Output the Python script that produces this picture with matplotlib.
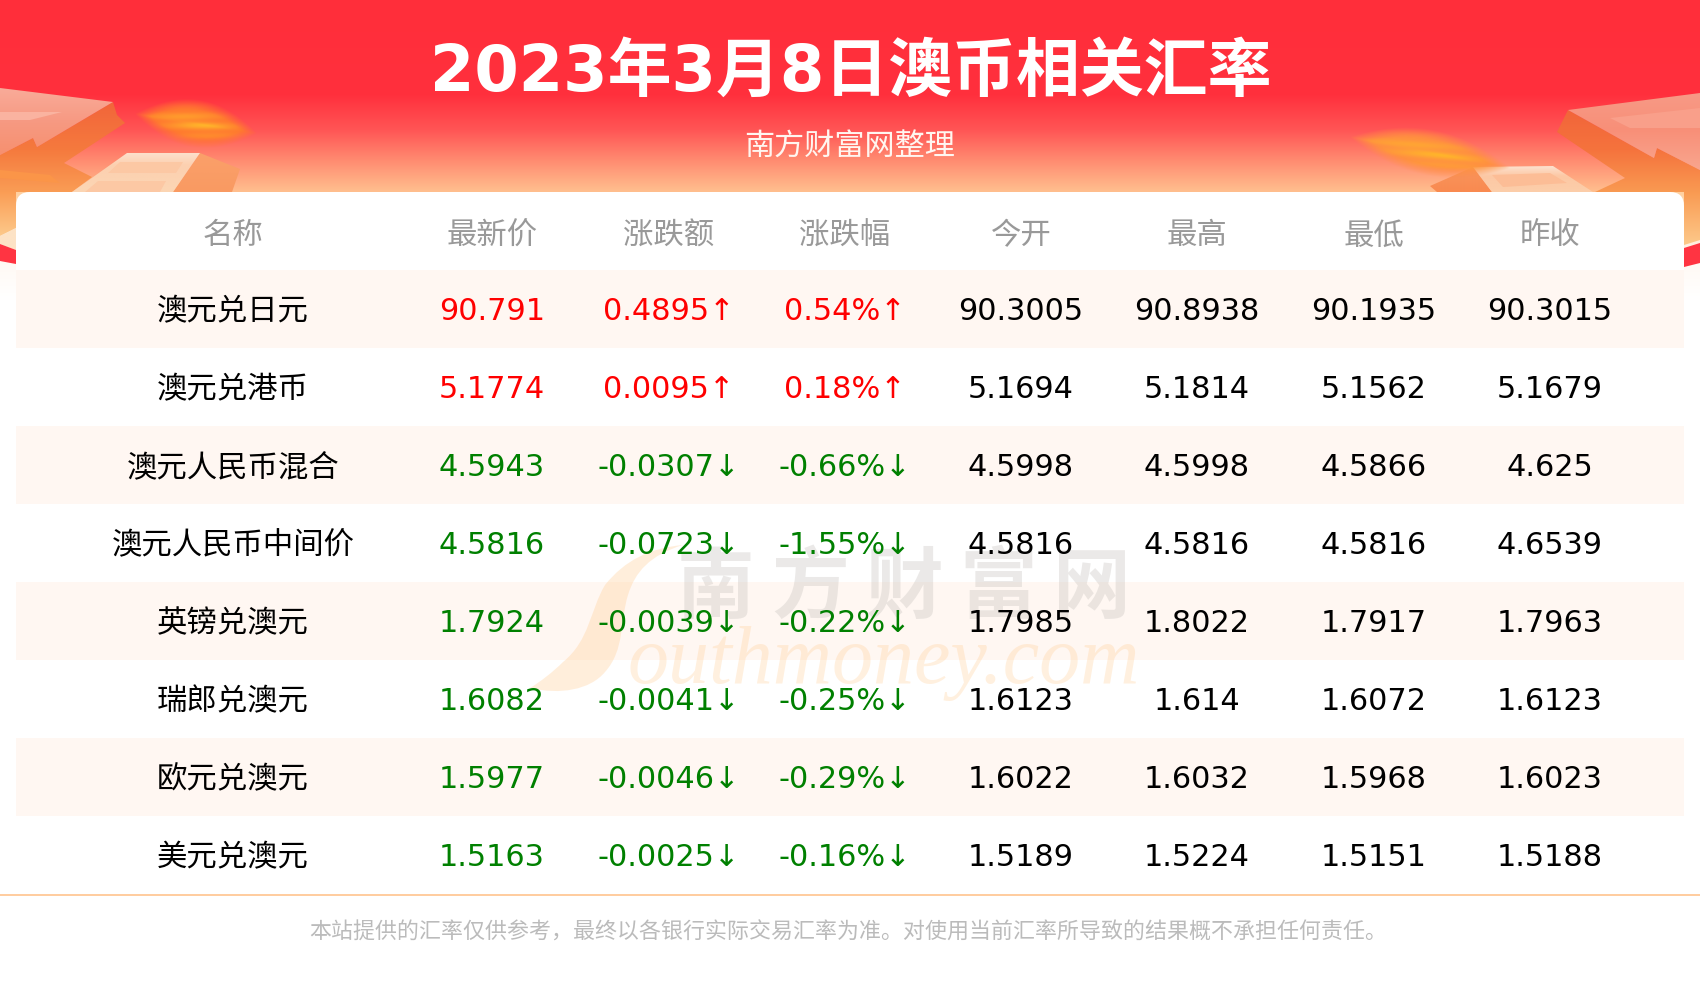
"""
plot.py
澳币相关汇率 table card, drawn on one full-figure axes (pixel coordinates).
"""
import numpy as np
import matplotlib
matplotlib.use("Agg")
import matplotlib.pyplot as plt
from matplotlib.colors import to_rgb
from matplotlib.patches import FancyBboxPatch, PathPatch, Polygon, Rectangle
from matplotlib.path import Path

plt.rcParams["font.family"] = ["DejaVu Sans", "Noto Sans CJK SC"]

# ---------------------------------------------------------------------------
# Data
# ---------------------------------------------------------------------------
TITLE = "2023年3月8日澳币相关汇率"
SUBTITLE = "南方财富网整理"
NOTE = "本站提供的汇率仅供参考，最终以各银行实际交易汇率为准。对使用当前汇率所导致的结果概不承担任何责任。"
HEADERS = ["名称", "最新价", "涨跌额", "涨跌幅", "今开", "最高", "最低", "昨收"]
NAMES = ["澳元兑日元", "澳元兑港币", "澳元人民币混合", "澳元人民币中间价",
         "英镑兑澳元", "瑞郎兑澳元", "欧元兑澳元", "美元兑澳元"]
LATEST = [90.791, 5.1774, 4.5943, 4.5816, 1.7924, 1.6082, 1.5977, 1.5163]
CHANGE = [0.4895, 0.0095, -0.0307, -0.0723, -0.0039, -0.0041, -0.0046, -0.0025]
PCT = [0.54, 0.18, -0.66, -1.55, -0.22, -0.25, -0.29, -0.16]
OPEN = [90.3005, 5.1694, 4.5998, 4.5816, 1.7985, 1.6123, 1.6022, 1.5189]
HIGH = [90.8938, 5.1814, 4.5998, 4.5816, 1.8022, 1.614, 1.6032, 1.5224]
LOW = [90.1935, 5.1562, 4.5866, 4.5816, 1.7917, 1.6072, 1.5968, 1.5151]
PREV = [90.3015, 5.1679, 4.625, 4.6539, 1.7963, 1.6123, 1.6023, 1.5188]

# ---------------------------------------------------------------------------
# Palette / layout
# ---------------------------------------------------------------------------
RED = "#ff0000"
GREEN = "#008000"
BAND = "#fff7f2"
GREY = "#999999"
COL_X = [233, 492, 669, 845, 1021, 1197, 1374, 1550]
ROW_TOP = 270
ROW_H = 78
CARD_L, CARD_R, CARD_T = 16, 1684, 192
FS_CELL = 21.9


def vgrad(ax, pts, stops, z):
    """Fill polygon pts with a vertical gradient, stops = [(y, colour), ...]."""
    pts = np.array(pts, float)
    y0, y1 = pts[:, 1].min(), pts[:, 1].max()
    ys = np.linspace(y0, y1, 200)
    at = [s[0] for s in stops]
    rgb = np.array([to_rgb(s[1]) for s in stops])
    img = np.stack([np.interp(ys, at, rgb[:, i]) for i in range(3)], axis=1)[:, None, :]
    im = ax.imshow(img, extent=(pts[:, 0].min(), pts[:, 0].max(), y1, y0),
                   aspect="auto", zorder=z, interpolation="bilinear")
    patch = Polygon(pts, closed=True, transform=ax.transData, fc="none", ec="none")
    ax.add_patch(patch)
    im.set_clip_path(patch)


def flame(ax, cx, cy, a, b, angle, edge, core, z):
    """Soft rotated streak, used for the two glowing shapes in the banner."""
    xs = np.linspace(cx - a * 1.3, cx + a * 1.3, 320)
    ys = np.linspace(cy - a * 0.6, cy + a * 0.6, 200)
    xx, yy = np.meshgrid(xs, ys)
    t = np.radians(angle)
    u = ((xx - cx) * np.cos(t) + (yy - cy) * np.sin(t)) / a
    v = (-(xx - cx) * np.sin(t) + (yy - cy) * np.cos(t)) / b
    # lens outline, pointed at both ends, feathered edge
    r = np.abs(v) + u ** 2
    alpha = np.clip((1.0 - r) * 2.2, 0, 1)
    mix = np.clip(np.exp(-r * 2.2) * (0.8 + 0.3 * np.sin(v * 14 + u * 6)), 0, 1)[..., None]
    img = np.dstack([np.array(to_rgb(edge)) * (1 - mix) + np.array(to_rgb(core)) * mix, alpha])
    ax.imshow(img, extent=(xs[0], xs[-1], ys[-1], ys[0]), aspect="auto", zorder=z,
              interpolation="bilinear")


def signed(v, suffix=""):
    arrow = "↑" if v > 0 else "↓"
    return f"{v}{suffix}{arrow}"


fig = plt.figure(figsize=(17, 10), dpi=100, facecolor="white")
ax = fig.add_axes([0, 0, 1, 1])
ax.axis("off")

# ── Banner background ────────────────────────────────────────────────────
vgrad(ax, [(0, 0), (1700, 0), (1700, 192), (0, 192)],
      [(0, "#ff2e3a"), (95, "#ff303d"), (130, "#ff5555"), (160, "#ff8a70"), (192, "#ffbf8e")], 1)
vgrad(ax, [(0, 192), (1700, 192), (1700, 300), (0, 300)],
      [(192, "#ffd0a0"), (250, "#fff4e8"), (265, "#fffaf5"), (300, "#ffffff")], 1)

# ── Left decoration ──────────────────────────────────────────────────────
vgrad(ax, [(113, 102), (117, 115), (125, 123), (64, 163), (92, 177), (72, 192), (16, 192),
           (16, 228), (0, 236), (0, 155), (33, 138), (37, 147)],
      [(102, "#f2653a"), (150, "#f57a3e"), (192, "#fa9d55"), (236, "#fdc98a")], 2)
vgrad(ax, [(0, 88), (113, 102), (37, 147), (33, 138), (0, 155)],
      [(88, "#f9ab99"), (120, "#f79a83"), (155, "#f6906f")], 3)
ax.add_patch(Polygon([(0, 112), (62, 112), (30, 120), (0, 120)], fc="#fab3a0", ec="none", zorder=3))
ax.add_patch(Polygon([(0, 170), (50, 175), (60, 183), (0, 178)], fc="#fb9548", ec="none", zorder=3))
vgrad(ax, [(0, 236), (16, 228), (16, 250), (0, 244)], [(228, "#fde3c6"), (250, "#fde3c6")], 3)
ax.add_patch(Polygon([(0, 244), (16, 250), (16, 264), (0, 261)], fc="#ff3442", ec="none", zorder=3))
vgrad(ax, [(200, 153), (240, 169), (232, 192), (173, 192)],
      [(153, "#fba06a"), (192, "#f99a62")], 3)
vgrad(ax, [(127, 153), (200, 153), (173, 192), (72, 192)],
      [(153, "#fde0cc"), (165, "#fcd0b0"), (192, "#fcd6b4")], 3)
ax.add_patch(Polygon([(120, 162), (183, 162), (176, 173), (108, 173)], fc="#fcc8a4", ec="none", zorder=3))
ax.add_patch(Polygon([(98, 181), (166, 181), (160, 192), (85, 192)], fc="#fcc8a4", ec="none", zorder=3))
flame(ax, 196, 124, 62, 24, 9, "#ff7030", "#ffb52a", 4)

# ── Right decoration ─────────────────────────────────────────────────────
vgrad(ax, [(1568, 110), (1557, 132), (1625, 178), (1595, 192), (1684, 192), (1684, 245),
           (1700, 240), (1700, 170), (1657, 148), (1654, 158)],
      [(110, "#f2653a"), (150, "#f5733d"), (192, "#f99a52"), (245, "#fdc98a")], 2)
vgrad(ax, [(1568, 110), (1700, 93), (1700, 170), (1657, 148), (1654, 158)],
      [(93, "#f79a86"), (130, "#f88f78"), (170, "#f9a68e")], 3)
ax.add_patch(Polygon([(1610, 118), (1700, 108), (1700, 128), (1630, 128)], fc="#f99f8a", ec="none", zorder=3))
ax.add_patch(Polygon([(1684, 248), (1700, 243), (1700, 263), (1684, 267)], fc="#ff3442", ec="none", zorder=3))
vgrad(ax, [(1473, 167), (1430, 186), (1437, 192), (1492, 192)],
      [(167, "#f9955c"), (192, "#f98a50")], 3)
vgrad(ax, [(1473, 167), (1553, 166), (1593, 192), (1492, 192)],
      [(166, "#fde2d0"), (176, "#fcc8a4"), (192, "#fcceaa")], 3)
ax.add_patch(Polygon([(1492, 175), (1550, 173), (1567, 183), (1503, 187)], fc="#fcbd96", ec="none", zorder=3))
flame(ax, 1430, 153, 82, 23, 11, "#ff8a44", "#ffb52a", 4)

# ── Card and rows ────────────────────────────────────────────────────────
ax.add_patch(FancyBboxPatch((CARD_L, CARD_T), CARD_R - CARD_L, 400, fc="white", ec="none", zorder=5,
                            boxstyle="round,pad=0,rounding_size=14"))
ax.add_patch(Rectangle((CARD_L, 250), CARD_R - CARD_L, 750, fc="white", ec="none", zorder=5))
ax.add_patch(Rectangle((0, 300), 1700, 700, fc="white", ec="none", zorder=1.5))
for i in range(0, len(NAMES), 2):
    ax.add_patch(Rectangle((CARD_L, ROW_TOP + ROW_H * i), CARD_R - CARD_L, ROW_H,
                           fc=BAND, ec="none", zorder=6))
ax.plot([0, 1700], [ROW_TOP + ROW_H * len(NAMES) + 0.5] * 2, color="#ffc896", lw=1.3, zorder=6,
        solid_capstyle="butt")

# ── Watermark ────────────────────────────────────────────────────────────
s_path = Path(
    [(683, 545), (650, 548), (625, 560), (605, 585), (590, 610), (590, 640), (563, 662),
     (553, 672), (540, 682), (530, 688), (560, 695), (590, 690), (605, 672), (625, 650),
     (620, 620), (628, 595), (635, 572), (650, 555), (683, 545)],
    [Path.MOVETO] + [Path.CURVE4] * 18)
ax.add_patch(PathPatch(s_path, fc="#ffc98a", alpha=0.3, ec="none", zorder=7))
ax.text(628, 683, "outhmoney.com", family="Liberation Serif", style="italic", fontsize=59,
        color="#ffc98a", alpha=0.27, ha="left", va="baseline", zorder=7)
for i, ch in enumerate("南方财富网"):
    ax.text(716 + 94 * i, 589, ch, family="Noto Sans CJK SC", fontweight="bold", fontsize=56,
            color="#c8c4c0", alpha=0.36, ha="center", va="center", zorder=7)

# ── Text ─────────────────────────────────────────────────────────────────
ax.text(851, 73, TITLE, color="white", fontsize=46, fontweight="bold", ha="center", va="center", zorder=8)
ax.text(850, 147, SUBTITLE, color="#fff6f0", fontsize=21.7, ha="center", va="center", zorder=8)

for x, h in zip(COL_X, HEADERS):
    ax.text(x, 233, h, color=GREY, fontsize=FS_CELL, ha="center", va="center_baseline", zorder=8)

for i, name in enumerate(NAMES):
    y = ROW_TOP + ROW_H * i + ROW_H / 2
    rise = CHANGE[i] > 0
    c = RED if rise else GREEN
    cells = [
        (name, "black"),
        (str(LATEST[i]), c),
        (signed(CHANGE[i]), c),
        (signed(PCT[i], "%"), c),
        (str(OPEN[i]), "black"),
        (str(HIGH[i]), "black"),
        (str(LOW[i]), "black"),
        (str(PREV[i]), "black"),
    ]
    for x, (txt, col) in zip(COL_X, cells):
        ax.text(x, y, txt, color=col, fontsize=FS_CELL, ha="center", va="center_baseline", zorder=8)

ax.text(848, 932, NOTE, color="#bbbbbb", fontsize=15.8, ha="center", va="center", zorder=8)

ax.set_xlim(0, 1700)
ax.set_ylim(1000, 0)
fig.savefig("out.png", dpi=100, facecolor="white")
